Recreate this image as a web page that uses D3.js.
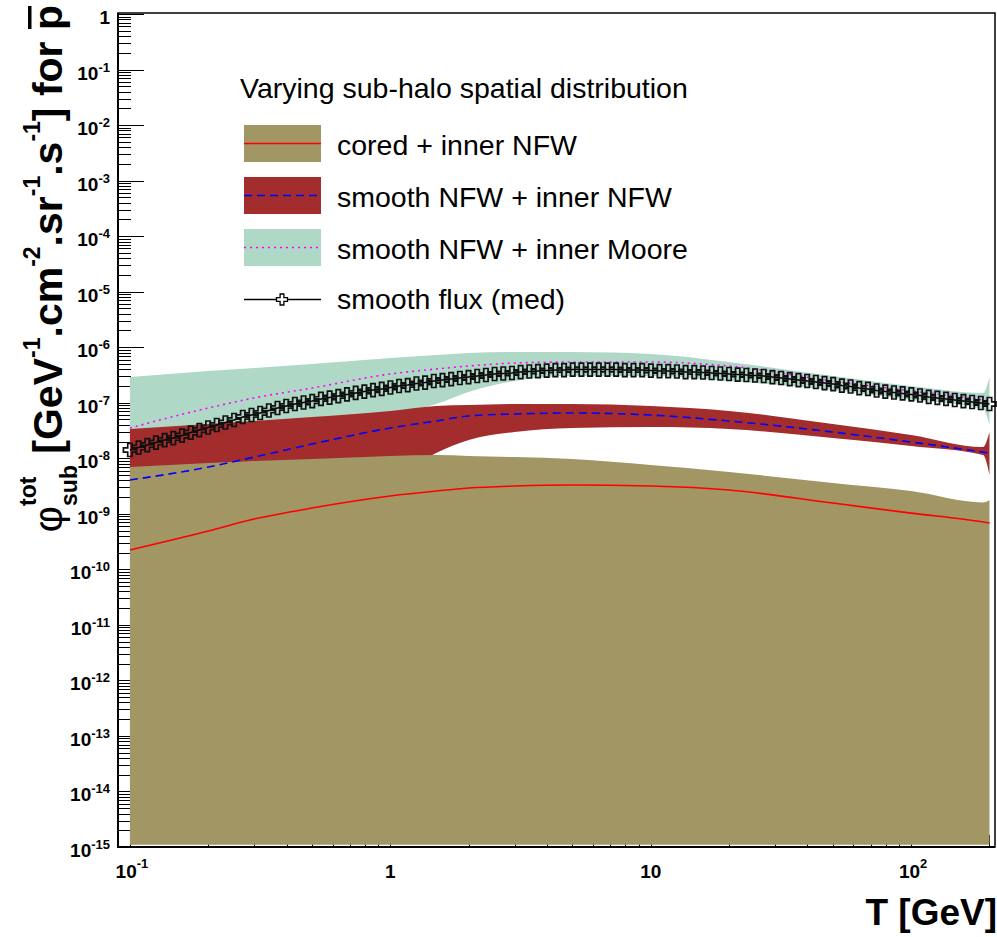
<!DOCTYPE html>
<html>
<head>
<meta charset="utf-8">
<script src="https://cdn.jsdelivr.net/npm/d3@7"></script>
<style>
body { margin: 0; background: #fff; }
svg { display: block; font-family: "Liberation Sans", Arial, sans-serif; }
</style>
</head>
<body>
<div class="c_chart"></div>
<script>
/*DATA
------------------------------------------------------
*/
// kinetic energies (GeV) of the band / curve points
const energies = [0.1, 0.2, 0.3, 0.5, 1, 1.5, 2, 3, 5, 10, 20, 50, 100, 189, 200];

// cored + inner NFW
const coredLow  = [1.1e-15, 1.1e-15, 1.1e-15, 1.1e-15, 1.1e-15, 1.1e-15, 1.1e-15, 1.1e-15, 1.1e-15, 1.1e-15, 1.1e-15, 1.1e-15, 1.1e-15, 1.1e-15, 1.1e-15];
const coredHigh = [6.95e-9, 8.2e-9, 8.91e-9, 9.68e-9, 1.1e-8, 1.14e-8, 1.1e-8, 1.05e-8, 9.68e-9, 7.55e-9, 5.65e-9, 3.58e-9, 2.57e-9, 1.6e-9, 1.75e-9];
const coredMed  = [2.23e-10, 4.9e-10, 8.05e-10, 1.27e-9, 2.09e-9, 2.57e-9, 2.91e-9, 3.16e-9, 3.3e-9, 3.16e-9, 2.68e-9, 1.56e-9, 1.03e-9, 7.11e-10, 6.82e-10];

// smooth NFW + inner NFW
const nfwLow  = [2.0e-9, 2.5e-9, 3.0e-9, 3.5e-9, 4.0e-9, 1.24e-8, 2.13e-8, 2.97e-8, 3.51e-8, 3.65e-8, 3.36e-8, 2.31e-8, 1.66e-8, 1.14e-8, 4.99e-9];
const nfwHigh = [3.36e-8, 4.14e-8, 4.69e-8, 5.53e-8, 7.1e-8, 8.73e-8, 9.1e-8, 9.48e-8, 9.48e-8, 8.73e-8, 7.1e-8, 4.14e-8, 2.62e-8, 1.59e-8, 2.97e-8];
const nfwMed  = [4.06e-9, 6.95e-9, 1.05e-8, 1.8e-8, 3.51e-8, 4.69e-8, 5.77e-8, 6.27e-8, 6.53e-8, 6.01e-8, 4.69e-8, 2.97e-8, 1.96e-8, 1.29e-8, 1.24e-8];

// smooth NFW + inner Moore
const mooreLow  = [3.0e-8, 3.7e-8, 4.2e-8, 5.0e-8, 6.3e-8, 9.48e-8, 1.56e-7, 2.46e-7, 3.03e-7, 3.03e-7, 2.46e-7, 1.69e-7, 1.12e-7, 7.71e-8, 3.97e-8];
const mooreHigh = [2.9e-7, 3.72e-7, 4.22e-7, 4.98e-7, 6.38e-7, 7.23e-7, 7.85e-7, 8.18e-7, 8.18e-7, 7.53e-7, 5.41e-7, 3.03e-7, 2.0e-7, 1.5e-7, 2.9e-7];
const mooreMed  = [3.51e-8, 8.04e-8, 1.22e-7, 1.84e-7, 3.29e-7, 4.05e-7, 4.58e-7, 5.19e-7, 5.41e-7, 5.41e-7, 4.58e-7, 2.46e-7, 1.63e-7, 1.12e-7, 1.07e-7];

// smooth flux (med), one value per marker, 100 log-spaced energies 0.1 -> 200 GeV
const smoothFlux = [
	1.41e-8, 1.56e-8, 1.73e-8, 1.92e-8, 2.13e-8, 2.31e-8, 2.56e-8, 2.90e-8, 3.22e-8, 3.58e-8,
	3.97e-8, 4.41e-8, 4.89e-8, 5.53e-8, 6.01e-8, 6.53e-8, 7.24e-8, 8.04e-8, 8.73e-8, 9.48e-8,
	1.01e-7, 1.07e-7, 1.17e-7, 1.24e-7, 1.32e-7, 1.41e-7, 1.50e-7, 1.59e-7, 1.69e-7, 1.77e-7,
	1.88e-7, 2.00e-7, 2.08e-7, 2.22e-7, 2.31e-7, 2.46e-7, 2.56e-7, 2.67e-7, 2.79e-7, 2.90e-7,
	3.03e-7, 3.16e-7, 3.29e-7, 3.36e-7, 3.43e-7, 3.57e-7, 3.65e-7, 3.72e-7, 3.80e-7, 3.88e-7,
	3.88e-7, 3.96e-7, 3.96e-7, 3.96e-7, 3.96e-7, 3.96e-7, 3.96e-7, 3.88e-7, 3.88e-7, 3.88e-7,
	3.80e-7, 3.72e-7, 3.72e-7, 3.65e-7, 3.57e-7, 3.57e-7, 3.50e-7, 3.43e-7, 3.36e-7, 3.29e-7,
	3.22e-7, 3.16e-7, 3.09e-7, 3.03e-7, 2.90e-7, 2.79e-7, 2.67e-7, 2.56e-7, 2.46e-7, 2.36e-7,
	2.26e-7, 2.17e-7, 2.04e-7, 1.96e-7, 1.84e-7, 1.77e-7, 1.66e-7, 1.59e-7, 1.53e-7, 1.47e-7,
	1.41e-7, 1.35e-7, 1.27e-7, 1.22e-7, 1.17e-7, 1.12e-7, 1.07e-7, 1.03e-7, 9.9e-8, 9.48e-8
];
const smoothEnergies = smoothFlux.map((d, i) => 0.1 * Math.pow(2000, i / (smoothFlux.length - 1)));

const legendTitle = "Varying sub-halo spatial distribution";
const legendLabels = ["cored + inner NFW", "smooth NFW + inner NFW", "smooth NFW + inner Moore", "smooth flux (med)"];

const xTickLabels = [[0.1, "10", "-1"], [1, "1", ""], [10, "10", ""], [100, "10", "2"]];

/*SVG, FORMAT
------------------------------------------------------
*/
const width = 997;
const height = 937;
const frame = {left: 118, right: 995, top: 13, bottom: 847};

const col = {olive: "#a19664", brick: "#a32d2d", mint: "#b0d8c6"};

let svg = d3.select(".c_chart")
	.append("svg")
	.attr("width", width)
	.attr("height", height);

let x = d3.scaleLog().domain([0.09, 210]).range([frame.left, frame.right]);
let y = d3.scaleLog().domain([1e-15, 1]).range([frame.bottom, 14]);

const isMajor = v => Math.abs(Math.log10(v) - Math.round(Math.log10(v))) < 1e-6;

/*TICKS (drawn first, bands cover them like in ROOT)
------------------------------------------------------
*/
const yt = y.ticks(20).filter(v => v >= 1e-15 && v <= 1);
const xt = x.ticks(12).filter(v => v >= 0.09 && v <= 210);

let gTicks = svg.append("g").attr("stroke", "#000").attr("stroke-width", 1);
gTicks.selectAll(".yt").data(yt).enter().append("line")
	.attr("x1", frame.left).attr("x2", d => frame.left + (isMajor(d) ? 26 : 13))
	.attr("y1", d => Math.round(y(d)) + 0.5).attr("y2", d => Math.round(y(d)) + 0.5);
gTicks.selectAll(".xt").data(xt).enter().append("line")
	.attr("y1", frame.bottom).attr("y2", d => frame.bottom - (isMajor(d) ? 24 : 12))
	.attr("x1", d => Math.round(x(d)) + 0.5).attr("x2", d => Math.round(x(d)) + 0.5);

/*BANDS
------------------------------------------------------
*/
function band(lo, hi, color) {
	let area = d3.area()
		.x((d, i) => x(energies[i]))
		.y0((d, i) => y(lo[i]))
		.y1((d, i) => y(hi[i]))
		.curve(d3.curveMonotoneX);
	svg.append("path").attr("d", area(hi)).attr("fill", color);
}
band(mooreLow, mooreHigh, col.mint);
band(nfwLow, nfwHigh, col.brick);
band(coredLow, coredHigh, col.olive);

/*LINES
------------------------------------------------------
*/
function curve(vals, color, dash) {
	let line = d3.line()
		.x((d, i) => x(energies[i]))
		.y(d => y(d))
		.curve(d3.curveMonotoneX);
	svg.append("path").attr("d", line(vals))
		.attr("fill", "none").attr("stroke", color).attr("stroke-width", 1.6)
		.attr("stroke-dasharray", dash);
}
curve(coredMed, "#ff0000", null);
curve(nfwMed, "#0000ff", "8,5");
curve(mooreMed, "#ff00ff", "2,4");

/*SMOOTH FLUX MARKERS
------------------------------------------------------
*/
const crossPath = (s, w) => `M${-w},${-s}H${w}V${-w}H${s}V${w}H${w}V${s}H${-w}V${w}H${-s}V${-w}H${-w}Z`;

svg.append("path")
	.attr("d", d3.line().x((d, i) => x(smoothEnergies[i])).y(d => y(d))(smoothFlux))
	.attr("fill", "none").attr("stroke", "#000").attr("stroke-width", 1.5);

svg.append("g").selectAll("path").data(smoothFlux).enter().append("path")
	.attr("d", crossPath(6.5, 2.2))
	.attr("transform", (d, i) => `translate(${x(smoothEnergies[i])},${y(d)})`)
	.attr("fill", "none").attr("stroke", "#111").attr("stroke-width", 1.7);

/*FRAME
------------------------------------------------------
*/
svg.append("rect")
	.attr("x", frame.left).attr("y", frame.top)
	.attr("width", frame.right - frame.left).attr("height", frame.bottom - frame.top)
	.attr("fill", "none").attr("stroke", "#000").attr("stroke-width", 1.5);
svg.append("line").attr("x1", frame.left).attr("x2", frame.left).attr("y1", frame.top).attr("y2", frame.bottom + 1)
	.attr("stroke", "#000").attr("stroke-width", 2);
svg.append("line").attr("x1", frame.left - 1).attr("x2", frame.right).attr("y1", frame.bottom).attr("y2", frame.bottom)
	.attr("stroke", "#000").attr("stroke-width", 2);

/*TICK LABELS
------------------------------------------------------
*/
let yl = svg.append("g").style("font-weight", "bold").attr("text-anchor", "end");
yt.filter(isMajor).forEach(v => {
	const k = Math.round(Math.log10(v));
	let t = yl.append("text").attr("x", 110).attr("y", y(v) + 10).style("font-size", "19px");
	if (k === 0) { t.text("1"); return; }
	t.append("tspan").text("10");
	t.append("tspan").attr("dy", -8).style("font-size", "13px").text("-" + Math.abs(k));
});

let xl = svg.append("g").style("font-weight", "bold").attr("text-anchor", "middle");
xTickLabels.forEach(([v, base, sup]) => {
	let t = xl.append("text").attr("x", x(v) + (sup ? 2 : 0)).attr("y", 878).style("font-size", "19px");
	t.append("tspan").text(base);
	if (sup) t.append("tspan").attr("dy", -10).style("font-size", "13px").text(sup);
});

/*AXIS TITLES
------------------------------------------------------
*/
svg.append("text")
	.attr("x", 997).attr("y", 925)
	.attr("text-anchor", "end")
	.style("font-weight", "bold").style("font-size", "37px")
	.text("T [GeV]");

// y title laid out piece by piece (super/subscripts), then rotated
const big = 41, small = 23;
const ySegs = [
	{t: "\u03c6", size: big, weight: "normal"},
	{t: "tot", size: small, raise: 26, stack: true},
	{t: "sub", size: small, raise: -15, stackEnd: true},
	{t: " [GeV", size: big},
	{t: "-1", size: small, raise: 22},
	{t: ".cm", size: big},
	{t: "-2", size: small, raise: 22},
	{t: ".sr", size: big},
	{t: "-1", size: small, raise: 22},
	{t: ".s", size: big},
	{t: "-1", size: small, raise: 22},
	{t: "] for ", size: big},
	{t: "p", size: big, bar: true}
];
let yTitle = svg.append("g");
let inner = yTitle.append("g");
let cx = 0, stackStart = 0, stackW = 0, barInfo = null;
ySegs.forEach(s => {
	const start = s.stackEnd ? stackStart : cx;
	let t = inner.append("text")
		.attr("x", start).attr("y", -(s.raise || 0))
		.style("font-size", s.size + "px")
		.style("font-weight", s.weight || "bold")
		.style("white-space", "pre")
		.text(s.t);
	const w = t.node().getComputedTextLength();
	if (s.stack) { stackStart = cx; stackW = w; return; }
	if (s.stackEnd) { cx = stackStart + Math.max(stackW, w); return; }
	if (s.bar) barInfo = [cx, w];
	cx += w;
});
inner.append("rect")
	.attr("x", barInfo[0] + 1).attr("width", barInfo[1] - 2)
	.attr("y", -34).attr("height", 3.5).attr("fill", "#000");
yTitle.attr("transform", `translate(62,${5 + cx}) rotate(-90)`);

/*LEGEND
------------------------------------------------------
*/
let lg = svg.append("g");
lg.append("text").attr("x", 240).attr("y", 98).style("font-size", "28.5px").text(legendTitle);

const boxes = [
	{fill: col.olive, stroke: "#ff0000", dash: null},
	{fill: col.brick, stroke: "#0000ff", dash: "8,5"},
	{fill: col.mint, stroke: "#ff00ff", dash: "2,4"}
];
boxes.forEach((b, i) => {
	const cy = 143.5 + 52 * i;
	lg.append("rect").attr("x", 244).attr("y", cy - 18.5).attr("width", 77).attr("height", 37).attr("fill", b.fill);
	lg.append("line").attr("x1", 244).attr("x2", 321).attr("y1", cy).attr("y2", cy)
		.attr("stroke", b.stroke).attr("stroke-width", 1.6).attr("stroke-dasharray", b.dash);
});
lg.append("line").attr("x1", 244).attr("x2", 321).attr("y1", 299.5).attr("y2", 299.5)
	.attr("stroke", "#000").attr("stroke-width", 1.3);
lg.append("path").attr("d", crossPath(5.5, 1.9)).attr("transform", "translate(282,299.5)")
	.attr("fill", "#fff").attr("stroke", "#000").attr("stroke-width", 1.3);

legendLabels.forEach((l, i) => {
	lg.append("text").attr("x", 337).attr("y", [155, 207, 259, 309][i]).style("font-size", "28.5px").text(l);
});
</script>
</body>
</html>
